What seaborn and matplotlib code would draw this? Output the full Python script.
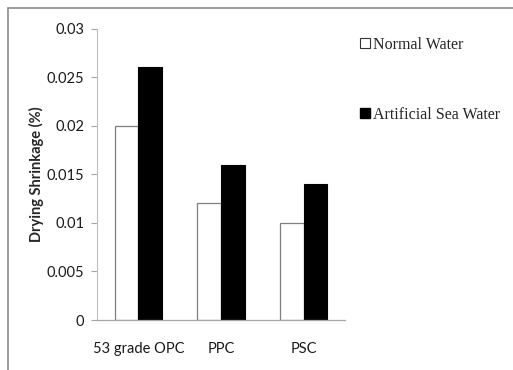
import matplotlib
matplotlib.use("Agg")
import matplotlib.pyplot as plt
import seaborn as sns
import pandas as pd
from matplotlib.lines import Line2D

categories = ["53 grade OPC", "PPC", "PSC"]
normal_water = [0.020, 0.012, 0.010]
sea_water = [0.026, 0.016, 0.014]
series_names = ["Normal Water", "Artificial Sea Water"]
yticks = [0, 0.005, 0.01, 0.015, 0.02, 0.025, 0.03]
ytick_labels = ["0", "0.005", "0.01", "0.015", "0.02", "0.025", "0.03"]

df = pd.DataFrame({
    "cat": categories * 2,
    "series": [series_names[0]] * 3 + [series_names[1]] * 3,
    "val": normal_water + sea_water,
})

sns.set_style("white")
plt.rcParams["font.family"] = ["Lato", "DejaVu Sans"]

fig = plt.figure(figsize=(5.13, 3.70), dpi=100)
ax = fig.add_axes([97 / 513, 1 - 320 / 370, (345 - 97) / 513, (320 - 28.5) / 370])

sns.barplot(data=df, x="cat", y="val", hue="series", order=categories,
            hue_order=series_names, palette=["white", "black"], width=0.57,
            ax=ax, legend=False, saturation=1)
for i, p in enumerate(ax.patches):
    if p.get_facecolor()[0] > 0.5:
        p.set_edgecolor("#7f7f7f")
        p.set_linewidth(0.9)
    else:
        p.set_edgecolor("black")
        p.set_linewidth(0.8)

ax.set_xlim(-0.5, 2.5)
ax.set_ylim(0, 0.03)
ax.set_yticks(yticks)
ax.set_yticklabels(ytick_labels)
ax.set_xlabel("")
ax.set_ylabel("Drying Shrinkage (%)", fontsize=10.5, fontweight="bold", labelpad=2)
for s in ["top", "right"]:
    ax.spines[s].set_visible(False)
ax.spines["left"].set_color("#bfbfbf")
ax.spines["bottom"].set_color("#a6a6a6")
ax.spines["left"].set_linewidth(0.8)
ax.spines["bottom"].set_linewidth(0.9)
ax.tick_params(axis="y", which="both", left=True, length=4, color="#a6a6a6",
               labelsize=10.5, labelcolor="#1a1a1a", pad=5)
ax.tick_params(axis="x", bottom=False, labelsize=10.5, labelcolor="#1a1a1a", pad=12)

handles = [
    Line2D([], [], marker="s", linestyle="none", markersize=7.5,
           markerfacecolor="white", markeredgecolor="#333333", markeredgewidth=0.8),
    Line2D([], [], marker="s", linestyle="none", markersize=7.5,
           markerfacecolor="black", markeredgecolor="black"),
]
fig.legend(handles, series_names, loc="upper left",
           bbox_to_anchor=(360 / 513, 1 - 37 / 370), frameon=False,
           prop={"family": "Liberation Serif", "size": 11.5},
           handlelength=0.6, handletextpad=0.2, labelspacing=3.35,
           borderpad=0, borderaxespad=0)

# figure border (left and top)
fig.add_artist(Line2D([8 / 513, 8 / 513], [0, 1 - 8 / 370], transform=fig.transFigure,
                      color="#8c8c8c", linewidth=1.2))
fig.add_artist(Line2D([8 / 513, 1], [1 - 8 / 370, 1 - 8 / 370], transform=fig.transFigure,
                      color="#8c8c8c", linewidth=1.2))

fig.savefig("out.png", dpi=100)
